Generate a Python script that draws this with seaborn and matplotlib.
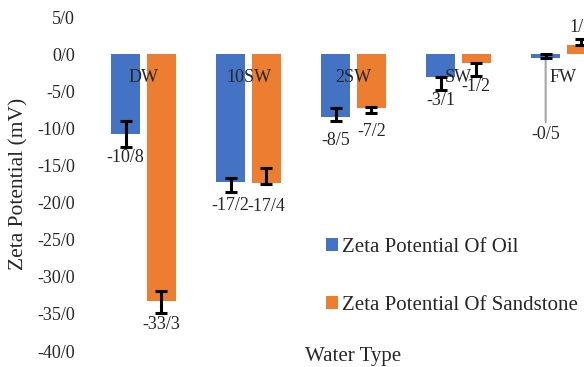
import numpy as np
import pandas as pd
import matplotlib
matplotlib.use("Agg")
import matplotlib.pyplot as plt
import seaborn as sns

# ---- data ----
categories = ["DW", "10SW", "2SW", "SW", "FW"]
series_names = ["Zeta Potential Of Oil", "Zeta Potential Of Sandstone"]
oil_values = [-10.8, -17.2, -8.5, -3.1, -0.5]
sandstone_values = [-33.3, -17.4, -7.2, -1.2, 1.2]
# error bars (centre and half-length) as drawn in the source
oil_err_center = [-10.7, -17.65, -8.1, -3.95, -0.25]
oil_err = [1.75, 0.9, 0.9, 0.9, 0.25]
sand_err_center = [-33.4, -16.45, -7.5, -2.07, 1.6]
sand_err = [1.5, 1.05, 0.38, 0.9, 0.4]
y_ticks = [5, 0, -5, -10, -15, -20, -25, -30, -35, -40]

# ---- styles ----
colors = ["#4472C4", "#ED7D31"]
oil_label_offsets = [-17, -17, -17, -17, -55]      # points
sand_label_offsets = [-17, -17, -17, -17, 13]

sns.set_theme(style="white")
plt.rcParams["font.family"] = ["Liberation Serif", "DejaVu Serif"]

def fmt(v):
    return f"{v:.1f}".replace(".", "/")

df = pd.DataFrame({
    "Water Type": categories * 2,
    "series": [series_names[0]] * len(categories) + [series_names[1]] * len(categories),
    "value": oil_values + sandstone_values,
})

fig = plt.figure(figsize=(5.84, 3.67), dpi=100)
ax = fig.add_axes([91 / 584, 16 / 367, 525 / 584, 334 / 367])

sns.barplot(data=df, x="Water Type", y="value", hue="series", order=categories,
            hue_order=series_names, palette=colors, width=0.68, gap=0.19,
            errorbar=None, linewidth=0, saturation=1, ax=ax)

ax.set_axisbelow(False)
ax.set_ylim(-40, 5)
ax.set_xlim(-0.5, len(categories) - 0.5)
ax.set_yticks(y_ticks)
ax.set_yticklabels([fmt(t) for t in y_ticks], fontsize=13)
ax.tick_params(axis="y", length=0, pad=11.5)
ax.tick_params(axis="x", length=0, pad=10.5, labelsize=13)
for s in ax.spines.values():
    s.set_visible(False)
ax.spines["bottom"].set_position(("data", 0))

ax.set_ylabel("Zeta Potential (mV)", fontsize=15.5)
ax.yaxis.label.set_va("center")
ax.yaxis.set_label_coords(-72 / 525, 0.5)
ax.set_xlabel("Water Type", fontsize=15)
ax.xaxis.label.set_va("center")
ax.xaxis.set_label_coords(0.5, -0.015)

groups = [
    (ax.containers[0], oil_values, oil_err_center, oil_err, oil_label_offsets),
    (ax.containers[1], sandstone_values, sand_err_center, sand_err, sand_label_offsets),
]
for cont, vals, ec, ee, offs in groups:
    xs = [p.get_x() + p.get_width() / 2 for p in cont.patches]
    ax.errorbar(xs, ec, yerr=ee, fmt="none", ecolor="black", elinewidth=2.2,
                capsize=4.6, capthick=2.2, zorder=3)
    for x, v, o in zip(xs, vals, offs):
        if abs(o) > 30:
            ax.annotate(fmt(v), xy=(x, v), xytext=(0, o), textcoords="offset points",
                        ha="center", va="center", fontsize=13,
                        arrowprops=dict(arrowstyle="-", color="#A6A6A6", lw=1.5,
                                        shrinkA=0, shrinkB=0), zorder=2)
        else:
            ax.annotate(fmt(v), xy=(x, v), xytext=(0, o), textcoords="offset points",
                        ha="center", va="center", fontsize=13, annotation_clip=False)

sns.move_legend(ax, loc="center left", bbox_to_anchor=(326 / 584, 90.5 / 367),
                bbox_transform=fig.transFigure, frameon=False, title=None,
                fontsize=15, handlelength=0.57, handleheight=0.57,
                handletextpad=0.2, labelspacing=1.85, borderpad=0, borderaxespad=0)

fig.savefig("out.png", dpi=100)
